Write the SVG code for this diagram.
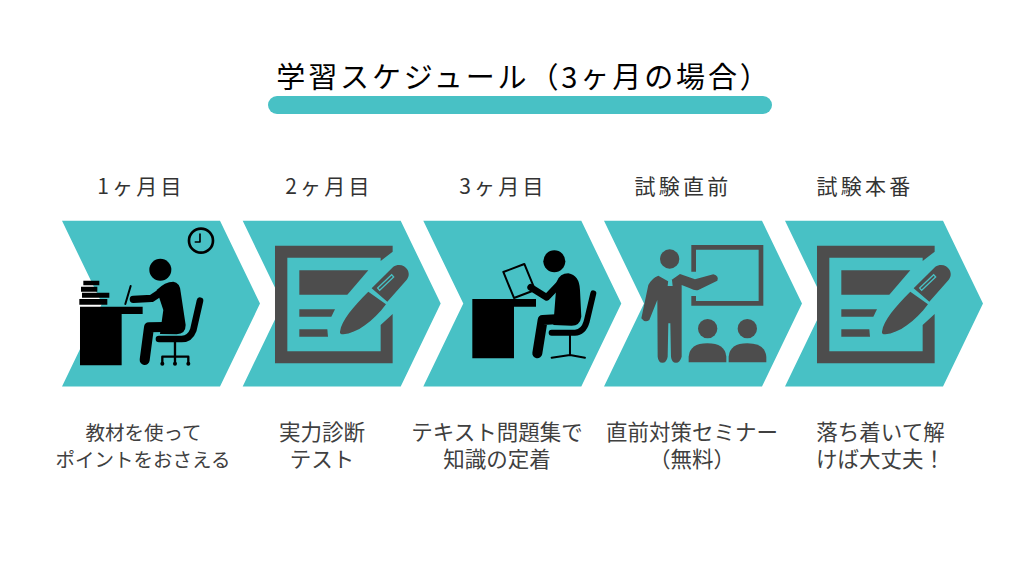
<svg xmlns="http://www.w3.org/2000/svg" xmlns:xlink="http://www.w3.org/1999/xlink" width="1024" height="576" viewBox="0 0 1024 576">
<style>
text{font-family:"Noto Sans CJK JP","Noto Sans",sans-serif;text-anchor:middle}
.title{font-size:29px;letter-spacing:2.9px;fill:#000}
.head{font-size:21px;letter-spacing:3.2px;fill:#333}
.body{font-size:21.500px;fill:#404040}
.small{font-size:19.500px}
.chev{fill:#48c1c5}
.k{fill:#000}
.ks{fill:none;stroke:#000;stroke-linecap:round;stroke-linejoin:round}
.d{fill:#4d4d4d}
</style>
<defs>
<polygon id="chevron" class="chev" points="0,0 158,0 198,82.8 158,165.6 0,165.6 40,82.8"/>
<g id="form" class="d">
<path d="M105,107H458V125L422,153V143H142V424H422V345L458,312V460H105Z"/>
<path d="M178,181H385L322,254H178Z"/>
<path d="M178,298H285L274,320H178Z"/>
<path d="M178,358H262L264,380H178Z"/>
<path d="M300,365C305,330 340,290 385,245L438,283C400,335 350,370 310,373C302,373 299,370 300,365Z"/>
<path d="M395,235L460,170C475,160 495,165 503,180C510,195 505,205 495,215L442,275Z"/>
<path d="M413,234L455,194L461,201L419,241Z" fill="#4d4d4d" stroke="#48c1c5" stroke-width="4"/>
</g>
</defs>
<rect width="1024" height="576" fill="#fff"/>
<g id="title">
<text class="title" x="524" y="88">学習スケジュール（3ヶ月の場合）</text>
<rect x="268" y="96" width="504" height="18" rx="9" fill="#48c1c5"/>
</g>
<g id="step1">
<use xlink:href="#chevron" href="#chevron" x="62" y="220.800"/>
<text class="head" x="141" y="194">1ヶ月目</text>
<g transform="translate(50 210) scale(.3333)">
<circle cx="453" cy="92" r="36" fill="none" stroke="#000" stroke-width="8"/>
<path class="ks" d="M450,72V96H436" stroke-width="5"/>
<circle class="k" cx="331" cy="179" r="33"/>
<path class="k" d="M90,290H278V312H215V466H90Z"/>
<path class="k" d="M100,212H148V226H100ZM93,230H142V245H93ZM96,248H178V263H96ZM88,267H172V284H88Z"/>
<path class="ks" d="M242,228L226,282" stroke-width="6"/>
<path class="k" d="M320,240Q345,215 370,215Q390,218 392,245L407,345Q407,372 380,373L330,372L340,300Z"/>
<path class="ks" d="M250,268L305,265L350,235" stroke-width="22"/>
<path class="ks" d="M385,350L297,352L284,450" stroke-width="30"/>
<path class="ks" d="M450,272L430,360Q420,387 395,387L327,387" stroke-width="20"/>
<path class="ks" d="M375,387V460M337,460V440H415V460" stroke-width="7"/>
<circle class="k" cx="337" cy="461" r="6"/><circle class="k" cx="375" cy="461" r="6"/><circle class="k" cx="415" cy="461" r="6"/>
</g>
<text class="body small" y="440"><tspan x="143.500">教材を使って</tspan><tspan x="143" dy="27">ポイントをおさえる</tspan></text>
</g>
<g id="step2">
<use xlink:href="#chevron" href="#chevron" x="242.700" y="220.800"/>
<text class="head" x="329" y="194">2ヶ月目</text>
<g transform="translate(240 210) scale(.3333)"><use xlink:href="#form" href="#form"/></g>
<text class="body" y="440"><tspan x="322">実力診断</tspan><tspan x="322" dy="27">テスト</tspan></text>
</g>
<g id="step3">
<use xlink:href="#chevron" href="#chevron" x="423.300" y="220.800"/>
<text class="head" x="503" y="194">3ヶ月目</text>
<g transform="translate(420 210) scale(.3333)">
<circle class="k" cx="403" cy="154" r="33"/>
<path class="k" d="M157,267H348V290H282V445H157Z"/>
<path d="M250,186L313,162L345,240L282,264Z" fill="none" stroke="#000" stroke-width="6" stroke-linejoin="round"/>
<path class="k" d="M410,215Q420,190 445,190Q478,195 480,240L484,320Q480,347 455,347L400,345Z"/>
<path class="ks" d="M332,232L380,262L425,215" stroke-width="20"/>
<path class="ks" d="M460,325L368,330L352,430" stroke-width="30"/>
<path class="ks" d="M520,250L500,335Q490,368 465,368L395,368" stroke-width="18"/>
<path class="ks" d="M450,368V435M395,443L450,435L495,443" stroke-width="6"/>
</g>
<text class="body" y="440"><tspan x="497">テキスト問題集で</tspan><tspan x="497" dy="27">知識の定着</tspan></text>
</g>
<g id="step4">
<use xlink:href="#chevron" href="#chevron" x="604" y="220.800"/>
<text class="head" x="683" y="194">試験直前</text>
<g transform="translate(600 210) scale(.3333)">
<path d="M281,185V112H483V280H281V258" fill="none" stroke="#4d4d4d" stroke-width="14"/>
<circle class="d" cx="209" cy="147" r="29"/>
<path class="d" d="M175,197L207,215L240,192L285,208L340,193Q358,198 352,212L295,240Q285,243 270,235L245,225V440Q240,458 228,458Q215,458 213,440L211,340H205L203,440Q200,458 187,458Q175,458 173,440L172,270L148,330Q135,340 124,325L145,225Q155,205 175,197Z"/>
<path d="M205,197H216V205H205ZM205,210H216L218,228H203Z" fill="#48c1c5"/>
<circle class="d" cx="323" cy="356" r="29"/>
<circle class="d" cx="442" cy="356" r="29"/>
<path class="d" d="M266,457V440Q270,400 322,400Q375,400 379,440V457Z"/>
<path class="d" d="M386,457V440Q390,400 442,400Q495,400 499,440V457Z"/>
</g>
<text class="body" y="440"><tspan x="692">直前対策セミナー</tspan><tspan x="692" dy="27">（無料）</tspan></text>
</g>
<g id="step5">
<use xlink:href="#chevron" href="#chevron" x="785" y="220.800"/>
<text class="head" x="865" y="194">試験本番</text>
<g transform="translate(782 210) scale(.3333)"><use xlink:href="#form" href="#form"/></g>
<text class="body" y="440"><tspan x="880.500">落ち着いて解</tspan><tspan x="880.500" dy="27">けば大丈夫！</tspan></text>
</g>
</svg>
